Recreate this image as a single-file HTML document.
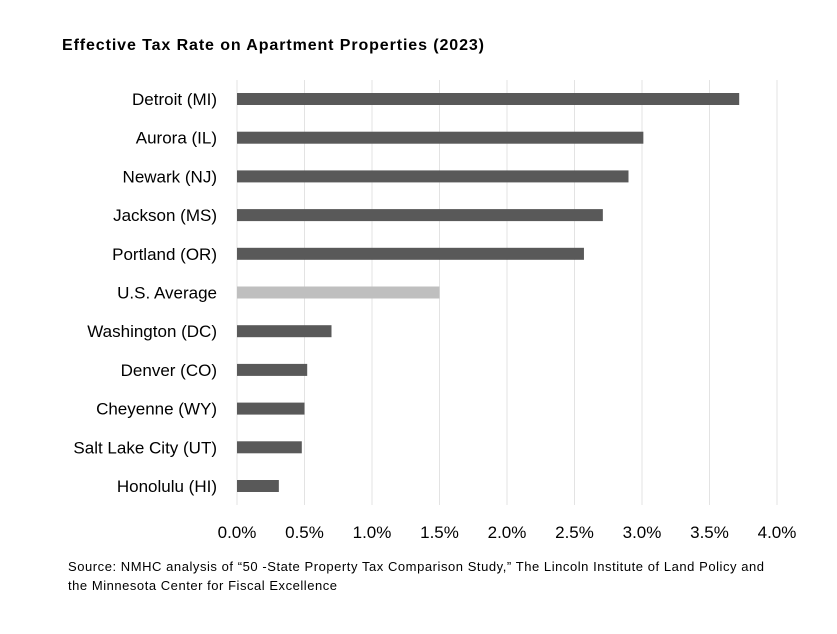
<!DOCTYPE html>
<html><head><meta charset="utf-8"><style>
body{margin:0;background:#fff;font-family:"Liberation Sans",sans-serif;}
</style></head><body>
<svg width="837" height="629" xmlns="http://www.w3.org/2000/svg">
<text x="62" y="50" font-size="16" font-weight="bold" fill="#000" textLength="422" lengthAdjust="spacing">Effective Tax Rate on Apartment Properties (2023)</text>
<g id="grid"></g><g id="bars"></g><g id="labels"></g><g id="ticks"></g>
<text x="68" y="571" font-size="13" fill="#000" textLength="696" lengthAdjust="spacing">Source: NMHC analysis of “50 -State Property Tax Comparison Study,”  The Lincoln Institute of Land Policy and</text>
<text x="68" y="590" font-size="13" fill="#000" textLength="269" lengthAdjust="spacing">the Minnesota Center for Fiscal Excellence</text>
</svg>
<script>
const categories=["Detroit (MI)","Aurora (IL)","Newark (NJ)","Jackson (MS)","Portland (OR)","U.S. Average","Washington (DC)","Denver (CO)","Cheyenne (WY)","Salt Lake City (UT)","Honolulu (HI)"];
const values=[3.72,3.01,2.90,2.71,2.57,1.50,0.70,0.52,0.50,0.48,0.31];
const tickValues=[0,0.5,1,1.5,2,2.5,3,3.5,4];
const tickLabels=["0.0%","0.5%","1.0%","1.5%","2.0%","2.5%","3.0%","3.5%","4.0%"];
const ns="http://www.w3.org/2000/svg";
const x=v=>237+v*135;
const y=i=>99+i*38.7;
function mk(t,a,p){const e=document.createElementNS(ns,t);for(const k in a)e.setAttribute(k,a[k]);p.appendChild(e);return e;}
const G=document.getElementById('grid'),B=document.getElementById('bars'),L=document.getElementById('labels'),T=document.getElementById('ticks');
tickValues.forEach((v,i)=>{
 const l=mk('line',{x1:x(v),x2:x(v),y1:80,y2:505,stroke:'#e3e3e3','stroke-width':1},G);
 
 
 const t=mk('text',{x:x(v),y:538,'font-size':17,'text-anchor':'middle',fill:'#000'},T);
 t.textContent=tickLabels[i];
 
 
});
categories.forEach((c,i)=>{
 const r=mk('rect',{x:x(0),y:y(i)-6,width:x(values[i])-x(0),height:12,fill:c==="U.S. Average"?'#bfbfbf':'#595959'},B);
 
 
 const t=mk('text',{x:217,y:y(i)+6,'font-size':17,'text-anchor':'end',fill:'#000'},L);
 t.textContent=c;
 
 
});
</script>
</body></html>
